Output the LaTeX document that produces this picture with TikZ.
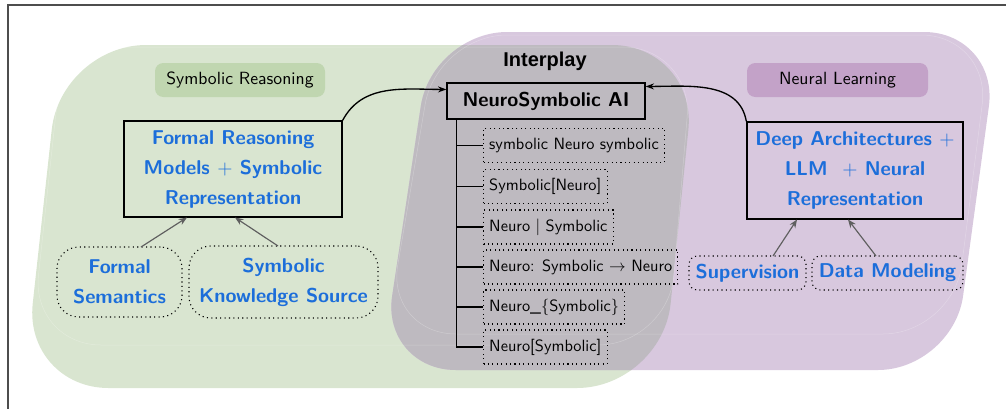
\documentclass[tikz,border=0pt]{standalone}
\usepackage{fontspec}
\newfontfamily\helv{Liberation Sans}
\usetikzlibrary{arrows.meta,calc}
\definecolor{grn}{RGB}{217,229,208}
\definecolor{prp}{RGB}{216,200,222}
\definecolor{gry}{RGB}{190,186,192}
\definecolor{grnlab}{RGB}{192,214,176}
\definecolor{prplab}{RGB}{195,162,200}
\definecolor{blu}{RGB}{28,110,218}
\definecolor{frame}{RGB}{77,77,77}
\tikzset{
  lab/.style={rounded corners=5pt, minimum height=20.4pt, font=\fontsize{10.6}{12}\selectfont\sffamily},
  mainbox/.style={draw=black, line width=0.8pt, align=center, text=blu,
    font=\fontsize{12}{18}\selectfont\sffamily\bfseries},
  srcbox/.style={draw=black, dotted, line width=0.65pt, align=center, text=blu,
    font=\fontsize{12}{18}\selectfont\sffamily\bfseries},
  leaf/.style={draw=black, dotted, line width=0.65pt, anchor=west, minimum height=20.4pt,
    inner xsep=3.4pt, font=\fontsize{9.8}{12}\selectfont\sffamily},
  feed/.style={draw=frame!90, line width=0.7pt, -{Stealth[length=5pt,width=4pt]}},
  link/.style={draw=black, line width=0.8pt, -{Stealth[length=5pt,width=3.6pt]}},
  faint/.style={draw=white, opacity=0.25, line width=0.3pt}
}
\begin{document}
\begin{tikzpicture}[x=0.6pt,y=-0.6pt]
\useasboundingbox (0,0) rectangle (1006,408);
\clip (0,0) rectangle (1006,408);
% frame
\draw[frame, line width=1pt] (8,1100) -- (8,5) -- (1100,5);
% regions
\def\greenpath{(61,45) -- (697,45) -- (662,388) -- (23.5,388) -- cycle}
\def\purplepath{(432,32) -- (999,32) -- (953,370) -- (381,370) -- cycle}
\fill[grn, rounded corners=51pt] \greenpath;
\fill[prp, rounded corners=45pt] \purplepath;
\begin{scope}
  \clip[rounded corners=51pt] \greenpath;
  \fill[gry, rounded corners=45pt] \purplepath;
\end{scope}
\draw[faint, rounded corners=42pt] (63,47) -- (693,47) -- (668,345) -- (31,345) -- cycle;
\draw[faint, rounded corners=42pt] (437,35) -- (991,35) -- (953,334) -- (386,334) -- cycle;

% labels
\node[lab, fill=grnlab, minimum width=102pt] (sr) at (240,80) {Symbolic Reasoning};
\node[lab, fill=prplab, minimum width=108.6pt] (nl) at (837.5,80) {Neural Learning};
\node[font=\fontsize{12}{14}\selectfont\helv\bfseries] (ip) at (545,61) {Interplay};

% main boxes
\node[mainbox, minimum width=130.8pt, minimum height=57.6pt] (fr) at (233,169)
  {Formal Reasoning\\Models $+$ Symbolic\\Representation};
\node[mainbox, minimum width=129.6pt, minimum height=58.2pt] (da) at (855,170.5)
  {Deep Architectures $+$\\LLM \ $+$ Neural\\Representation};
\node[draw=black, line width=0.8pt, minimum width=118.8pt, minimum height=21.6pt,
  font=\fontsize{12}{14}\selectfont\sffamily\bfseries] (ai) at (546,101) {NeuroSymbolic AI};

% sources
\node[srcbox, rounded corners=13pt, minimum width=75pt, minimum height=42pt] (fs) at (119.5,282)
  {Formal\\Semantics};
\node[srcbox, rounded corners=13pt, minimum width=113.4pt, minimum height=43.2pt] (sks) at (283.5,282)
  {Symbolic\\Knowledge Source};
\node[srcbox, rounded corners=5pt, minimum width=70.2pt, minimum height=20.4pt] (sup) at (747.5,273)
  {Supervision};
\node[srcbox, rounded corners=5pt, minimum width=90.6pt, minimum height=20.4pt] (dm) at (887.5,273)
  {Data Modeling};

% feed arrows
\draw[feed] (141,247) coordinate (fsT) -- (187,217.5) coordinate (frB1);
\draw[feed] (278,246) coordinate (sksT) -- (235,217.5) coordinate (frB2);
\draw[feed] (773,256) coordinate (supT) -- (797,219.5) coordinate (daB1);
\draw[feed] (876,256) coordinate (dmT) -- (848,219.5) coordinate (daB2);

% links to AI
\coordinate (aiL) at ($(ai.north west)!0.19!(ai.south west)$);
\coordinate (aiR) at ($(ai.north east)!0.11!(ai.south east)$);
\draw[link] (fr.north east) to[out=62,in=180] (aiL);
\draw[link] (da.north west) to[out=100,in=0] (aiR);

% leaves
\node[leaf] (c1) at (483,145.5) {symbolic Neuro symbolic};
\node[leaf] (c2) at (483,186.5) {Symbolic[Neuro]};
\node[leaf] (c3) at (483,227) {Neuro $|$ Symbolic\ };
\node[leaf] (c4) at (483,267) {Neuro: Symbolic $\rightarrow$ Neuro};
\node[leaf] (c5) at (483,307) {Neuro\_\{Symbolic\}};
\node[leaf] (c6) at (483,347) {Neuro[Symbolic]};

\coordinate (tr) at ($(ai.south west)+(10,0)$);
\foreach \c in {c1,c2,c3,c4,c5,c6} \draw[line width=0.8pt] (tr) |- (\c.west);
\end{tikzpicture}
\end{document}
